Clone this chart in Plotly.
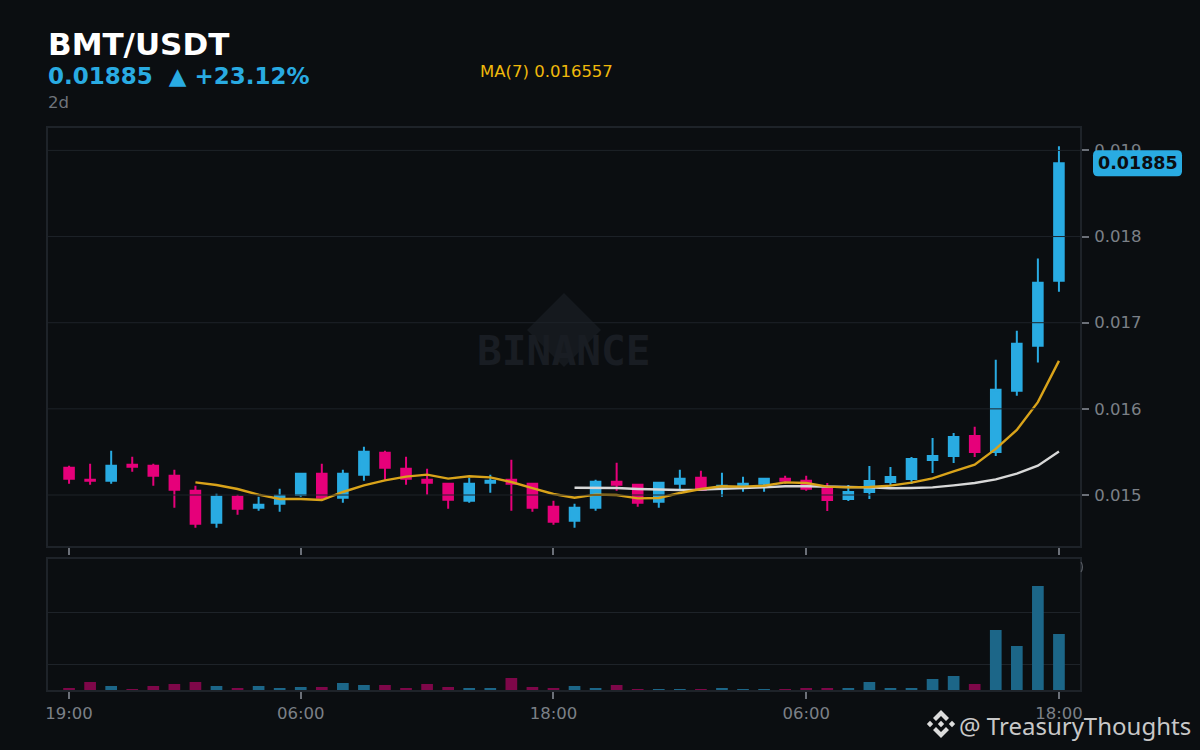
import pandas as pd
import plotly.graph_objects as go
from plotly.subplots import make_subplots

BG = "#0b0e11"
FRAME = "#1e2329"
UP = "#29abe2"
DOWN = "#e6007a"
TICK_TXT = "#7b8087"

# hourly candles, 19:00 on day one to 18:00 on day three
times = pd.date_range("2025-03-01 19:00", periods=48, freq="h")

opens = [
    0.015317, 0.015178, 0.015166, 0.015352, 0.015341, 0.015225, 0.015050, 0.014679,
    0.014981, 0.014853, 0.014899, 0.015004, 0.015248, 0.014969, 0.015236, 0.015492,
    0.015306, 0.015178, 0.015132, 0.014934, 0.015143, 0.015178, 0.015132, 0.014865,
    0.014702, 0.014853, 0.015155, 0.015120, 0.014923, 0.015132, 0.015201, 0.015097,
    0.015108, 0.015132, 0.015190, 0.015166, 0.015070, 0.014953, 0.015035, 0.015151,
    0.015186, 0.015407, 0.015453, 0.015686, 0.015500, 0.016209, 0.016733, 0.017488,
]
highs = [
    0.015341, 0.015364, 0.015515, 0.015445, 0.015364, 0.015294, 0.015108, 0.015015,
    0.015004, 0.014981, 0.015074, 0.015259, 0.015364, 0.015294, 0.015561, 0.015515,
    0.015445, 0.015306, 0.015143, 0.015201, 0.015236, 0.015410, 0.015143, 0.014934,
    0.014899, 0.015178, 0.015375, 0.015132, 0.015155, 0.015294, 0.015283, 0.015259,
    0.015213, 0.015201, 0.015225, 0.015225, 0.015140, 0.015116, 0.015337, 0.015326,
    0.015442, 0.015663, 0.015721, 0.015791, 0.016570, 0.016907, 0.017744, 0.019047,
]
lows = [
    0.015132, 0.015120, 0.015132, 0.015271, 0.015108, 0.014853, 0.014621, 0.014621,
    0.014772, 0.014818, 0.014806, 0.014981, 0.014946, 0.014911, 0.015166, 0.015178,
    0.015120, 0.015004, 0.014841, 0.014911, 0.015027, 0.014818, 0.014806, 0.014655,
    0.014621, 0.014818, 0.015050, 0.014865, 0.014853, 0.015062, 0.015062, 0.014981,
    0.015039, 0.015039, 0.015132, 0.015050, 0.014814, 0.014930, 0.014953, 0.015105,
    0.015128, 0.015256, 0.015372, 0.015442, 0.015453, 0.016151, 0.016539, 0.017360,
]
closes = [
    0.015190, 0.015166, 0.015341, 0.015329, 0.015225, 0.015062, 0.014667, 0.014981,
    0.014841, 0.014888, 0.014992, 0.015248, 0.014969, 0.015248, 0.015503, 0.015317,
    0.015190, 0.015143, 0.014946, 0.015132, 0.015166, 0.015132, 0.014853, 0.014690,
    0.014853, 0.015155, 0.015120, 0.014911, 0.015143, 0.015190, 0.015062, 0.015108,
    0.015132, 0.015190, 0.015166, 0.015074, 0.014942, 0.015035, 0.015163, 0.015209,
    0.015419, 0.015453, 0.015674, 0.015500, 0.016221, 0.016756, 0.017465, 0.018850,
]
# volume panel has no scale in the picture, so these are relative heights
volumes = [
    2, 8, 4, 1, 4, 6, 8, 4, 2, 4, 2, 3, 3, 7, 5, 5, 2, 6, 3, 2, 2, 12, 3, 2,
    4, 2, 5, 1, 0.3, 1, 0.3, 2, 0.3, 1, 0.3, 2, 2, 2, 8, 2, 2, 11, 14, 6, 60, 44, 104, 56,
]
ma7 = [
    None, None, None, None, None, None,
    0.015147, 0.015116, 0.015070, 0.015004, 0.014954, 0.014954, 0.014942, 0.015035,
    0.015112, 0.015170, 0.015213, 0.015236, 0.015190, 0.015217, 0.015205, 0.015151,
    0.015081, 0.015012, 0.014969, 0.015004, 0.015000, 0.014961, 0.014965, 0.015023,
    0.015070, 0.015101, 0.015097, 0.015108, 0.015147, 0.015139, 0.015097, 0.015089,
    0.015093, 0.015109, 0.015143, 0.015194, 0.015275, 0.015353, 0.015535, 0.015756,
    0.016078, 0.016557,
]
ma25 = [None] * 24 + [
    0.015085, 0.015085, 0.015081, 0.015070, 0.015062, 0.015058, 0.015062, 0.015074,
    0.015081, 0.015089, 0.015101, 0.015101, 0.015093, 0.015093, 0.015089, 0.015078,
    0.015081, 0.015089, 0.015112, 0.015140, 0.015182, 0.015248, 0.015341, 0.015504,
]

price_ticks = [0.015, 0.016, 0.017, 0.018, 0.019]
price_labels = ["0.015", "0.016", "0.017", "0.018", "0.019"]
time_ticks = ["2025-03-01 19:00", "2025-03-02 06:00", "2025-03-02 18:00", "2025-03-03 06:00", "2025-03-03 18:00"]
time_labels = ["19:00", "06:00", "18:00", "06:00", "18:00"]
volume_grid = [25, 77]

# plot frame in screen pixels, used for placing texts and logos
LEFT, RIGHT, TOP, BOTTOM = 48, 1080, 128, 690


def px(x):
    return (x - LEFT) / (RIGHT - LEFT)


def py(y):
    return (BOTTOM - y) / (BOTTOM - TOP)


def poly(cx, cy, pts, color, layer="above"):
    path = "M " + " L ".join(f"{a} {b}" for a, b in pts) + " Z"
    return dict(type="path", path=path, xref="paper", yref="paper", xsizemode="pixel", ysizemode="pixel",
                xanchor=px(cx), yanchor=py(cy), fillcolor=color, line=dict(width=0), layer=layer)


def diamond(r):
    return [(0, r), (r, 0), (0, -r), (-r, 0)]


fig = make_subplots(rows=2, cols=1, shared_xaxes=True)

fig.add_trace(go.Candlestick(
    x=times, open=opens, high=highs, low=lows, close=closes,
    increasing=dict(line=dict(color=UP, width=2), fillcolor=UP),
    decreasing=dict(line=dict(color=DOWN, width=2), fillcolor=DOWN),
    whiskerwidth=0,
), row=1, col=1)
fig.add_trace(go.Scatter(x=times, y=ma25, mode="lines", line=dict(color="#d8d8d8", width=2.4)), row=1, col=1)
fig.add_trace(go.Scatter(x=times, y=ma7, mode="lines", line=dict(color="#d9a31a", width=2.4)), row=1, col=1)

bar_colors = ["#1c6688" if c >= o else "#7e0749" for o, c in zip(opens, closes)]
fig.add_trace(go.Bar(x=times, y=volumes, marker=dict(color=bar_colors, line=dict(width=0)), width=2000000), row=2, col=1)

# --- axes ---
x_style = dict(
    type="date", range=["2025-03-01 18:00", "2025-03-03 19:00"], rangeslider=dict(visible=False),
    tickmode="array", tickvals=time_ticks, ticks="outside", ticklen=7, tickwidth=2, tickcolor="#6b7078",
    showgrid=False, zeroline=False, showline=True, linecolor=FRAME, linewidth=2, mirror=True,
)
fig.update_xaxes(**x_style, showticklabels=False, row=1, col=1)
fig.update_xaxes(**x_style, ticktext=time_labels, showticklabels=True,
                 tickfont=dict(family="DejaVu Sans", size=16.5, color=TICK_TXT), row=2, col=1)
fig.update_yaxes(
    side="right", domain=[0.2562, 1], range=[0.014408, 0.01926],
    tickmode="array", tickvals=price_ticks, ticktext=price_labels,
    ticks="outside", ticklen=7, tickwidth=2, tickcolor="#6b7078",
    tickfont=dict(family="DejaVu Sans", size=16.5, color=TICK_TXT), ticklabelstandoff=2,
    showgrid=False, zeroline=False, showline=True, linecolor=FRAME, linewidth=2, mirror=True,
    row=1, col=1,
)
fig.update_yaxes(
    side="right", domain=[0, 0.2331], range=[0, 131],
    tickmode="array", tickvals=volume_grid, showticklabels=False, ticks="",
    showgrid=True, gridcolor=FRAME, gridwidth=1, zeroline=False,
    showline=True, linecolor=FRAME, linewidth=2, mirror=True,
    row=2, col=1,
)

# the price grid runs over the candles in the original
shapes = [
    dict(type="line", xref="x domain", yref="y", x0=0, x1=1, y0=v, y1=v,
         line=dict(color=FRAME, width=1), layer="above")
    for v in price_ticks
]

# BINANCE watermark diamond
shapes.append(poly(564, 330, [(0, 37), (37, 0), (0, -37), (-37, 0)], "#15191e", layer="below"))

# last price badge
shapes.append(dict(
    type="path", xref="paper", yref="y", xsizemode="pixel", ysizemode="pixel", xanchor=1, yanchor=closes[-1],
    path="M 18 -13 L 97 -13 Q 102 -13 102 -8 L 102 8 Q 102 13 97 13 L 18 13 Q 13 13 13 8 L 13 -8 Q 13 -13 18 -13 Z",
    fillcolor=UP, line=dict(width=0), layer="above",
))

# sliver of a hidden tick label that pokes out right of the volume panel
shapes.append(dict(
    type="path", xref="paper", yref="paper", xsizemode="pixel", ysizemode="pixel", xanchor=px(1081), yanchor=py(567),
    path="M 0 5 Q 3 0 0 -5", line=dict(color="#555960", width=1.2), layer="above",
))

# small exchange logo beside the handle
LOGO_X, LOGO_Y = 941, 724
shapes.append(poly(LOGO_X, LOGO_Y, [(0, 14), (8, 6), (5, 3), (0, 8), (-5, 3), (-8, 6)], "#dcdcdc"))
shapes.append(poly(LOGO_X, LOGO_Y, [(0, -14), (8, -6), (5, -3), (0, -8), (-5, -3), (-8, -6)], "#dcdcdc"))
shapes.append(poly(LOGO_X - 11, LOGO_Y, diamond(3.2), "#dcdcdc"))
shapes.append(poly(LOGO_X + 11, LOGO_Y, diamond(3.2), "#dcdcdc"))
shapes.append(poly(LOGO_X, LOGO_Y, diamond(3.2), "#dcdcdc"))


def label(x, y, text, size, color, family="DejaVu Sans", bold=False, anchor="left"):
    if bold:
        text = f"<b>{text}</b>"
    return dict(xref="paper", yref="paper", x=px(x), y=py(y), text=text, showarrow=False, xanchor=anchor,
                yanchor="middle", font=dict(family=family, size=size, color=color), borderpad=0, borderwidth=0)


annotations = [
    label(48, 44, "BMT/USDT", 31, "#ffffff", bold=True),
    label(48, 76, "0.01885  ▲ +23.12%", 23, UP, bold=True),
    label(48, 102, "2d", 16.5, "#6f747b"),
    label(480, 71, "MA(7) 0.016557", 16.5, "#f0b90b"),
    label(564, 351, "BINANCE", 41.2, "#191d23", family="DejaVu Sans Mono", bold=True, anchor="center"),
    label(1138, 162.5, "0.01885", 17.5, "#0b0e11", bold=True, anchor="center"),
    label(959, 725, "@ TreasuryThoughts", 24, "#c8c8c8", family="Noto Sans"),
]

fig.update_layout(
    width=1200, height=750,
    margin=dict(l=LEFT, r=1200 - RIGHT, t=TOP, b=750 - BOTTOM, pad=0),
    paper_bgcolor=BG, plot_bgcolor=BG,
    showlegend=False, boxgap=0.35,
    shapes=shapes, annotations=annotations,
)

# page margin would push the figure 8px off the window
fig.write_html("out.html", config=dict(displayModeBar=False),
               post_script="document.body.style.margin='0';document.body.style.background='#0b0e11';")
